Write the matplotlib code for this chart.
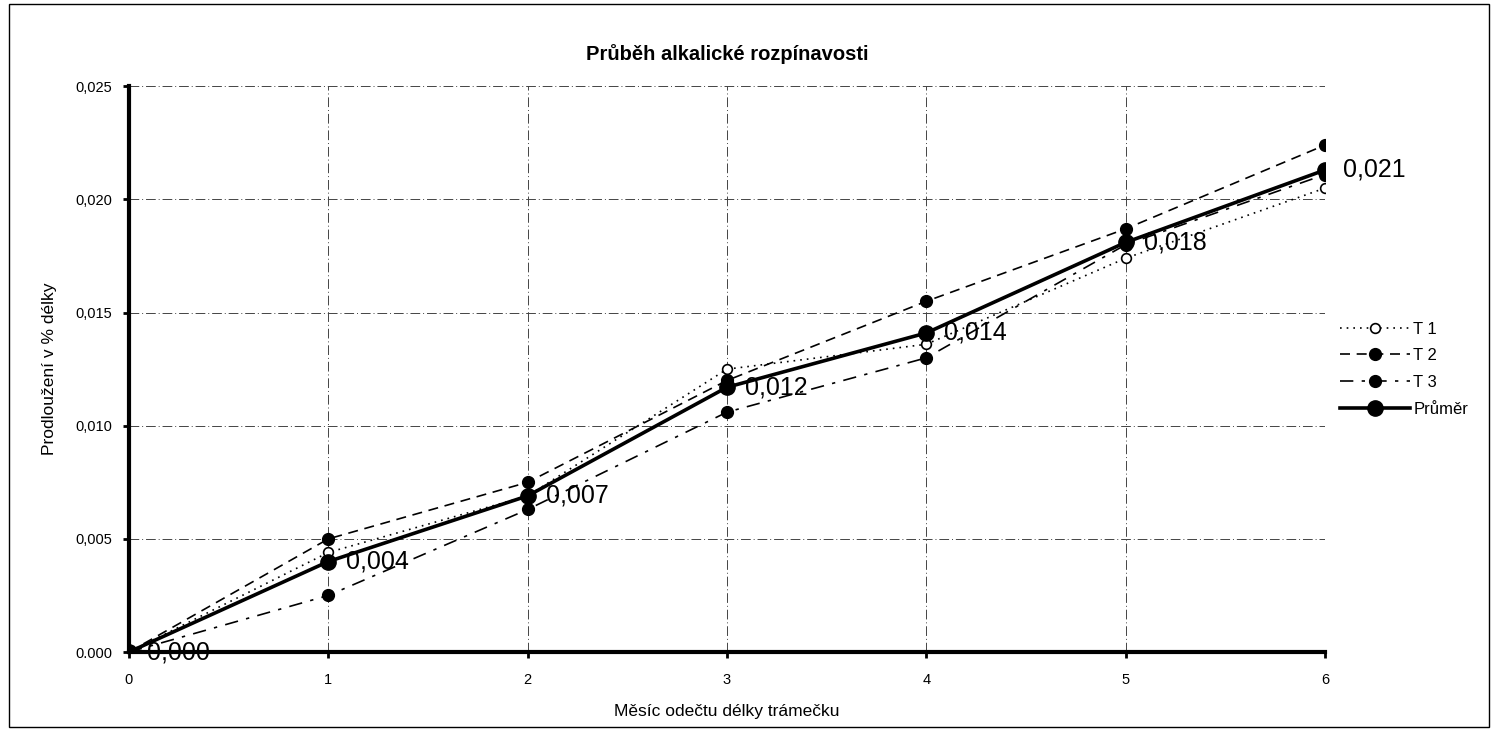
import matplotlib
matplotlib.use("Agg")
import matplotlib.pyplot as plt
from matplotlib.patches import Rectangle

plt.rcParams['font.family'] = ['Liberation Sans', 'DejaVu Sans']

months = [0, 1, 2, 3, 4, 5, 6]
t1 = [0.0, 0.0044, 0.0069, 0.0125, 0.0136, 0.0174, 0.0205]
t2 = [0.0, 0.0050, 0.0075, 0.0120, 0.0155, 0.0187, 0.0224]
t3 = [0.0, 0.0025, 0.0063, 0.0106, 0.0130, 0.0180, 0.0211]
prumer = [0.0, 0.0040, 0.0069, 0.0117, 0.0141, 0.0181, 0.0213]
prumer_labels = ["0,000", "0,004", "0,007", "0,012", "0,014", "0,018", "0,021"]
y_ticks = [0.0, 0.005, 0.010, 0.015, 0.020, 0.025]
y_tick_labels = ["0.000", "0,005", "0,010", "0,015", "0,020", "0,025"]

fig = plt.figure(figsize=(14.98, 7.31), dpi=100)
ax = fig.add_axes([0.0861, 0.108, 0.7984, 0.774])

# border around the figure
fig.patches.append(Rectangle((0.006, 0.006), 0.988, 0.988, transform=fig.transFigure,
                             fill=False, edgecolor='black', linewidth=1.0))

ax.plot(months, t1, linestyle=(0, (1, 3)), color='black', linewidth=1.2,
        marker='o', markersize=7, markerfacecolor='white', markeredgecolor='black',
        markeredgewidth=1.2, label='T 1', zorder=3)
ax.plot(months, t2, linestyle=(0, (6, 4)), color='black', linewidth=1.2,
        marker='o', markersize=8.5, markerfacecolor='black', label='T 2', zorder=3)
ax.plot(months, t3, linestyle=(0, (8, 5, 2, 5)), color='black', linewidth=1.2,
        marker='o', markersize=8.5, markerfacecolor='black', label='T 3', zorder=3)
ax.plot(months, prumer, linestyle='-', color='black', linewidth=2.6,
        marker='o', markersize=11, markerfacecolor='black', label='Průměr', zorder=4)

for xv, yv, lab in zip(months, prumer, prumer_labels):
    ax.annotate(lab, (xv, yv), xytext=(13, 0), textcoords='offset points',
                ha='left', va='center', fontsize=18, zorder=5)

ax.set_xlim(0, 6)
ax.set_ylim(0, 0.025)
ax.set_xticks(months)
ax.set_xticklabels([str(m) for m in months], fontsize=10.5)
ax.set_yticks(y_ticks)
ax.set_yticklabels(y_tick_labels, fontsize=10.5)

ax.grid(True, color='#444444', linestyle=(0, (10, 3, 1, 3)), linewidth=0.7)
ax.set_axisbelow(True)

for side in ['top', 'right']:
    ax.spines[side].set_visible(False)
ax.spines['left'].set_linewidth(3)
ax.spines['bottom'].set_linewidth(3)
ax.tick_params(axis='x', length=4, width=2, direction='out', pad=11)
ax.tick_params(axis='y', length=4, width=2, direction='out', pad=8)

ax.set_title('Průběh alkalické rozpínavosti', fontsize=14.5, fontweight='bold', pad=19)
ax.set_xlabel('Měsíc odečtu délky trámečku', fontsize=12.5, labelpad=12)
ax.set_ylabel('Prodloužení v % délky', fontsize=12.5, labelpad=13)

leg = ax.legend(loc='center left', bbox_to_anchor=(1.0125, 0.50), frameon=False,
                fontsize=12, handlelength=4.2, handletextpad=0.2, borderpad=0,
                borderaxespad=0, labelspacing=0.7)

fig.savefig('out.png', dpi=100)
